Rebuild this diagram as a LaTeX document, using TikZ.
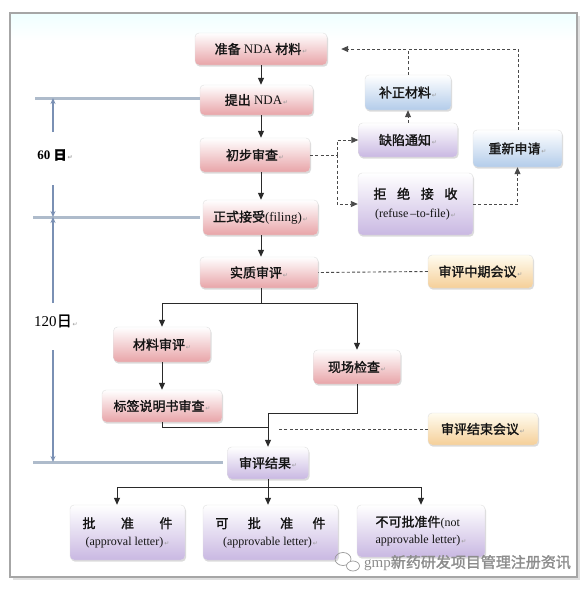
\documentclass[tikz,border=0pt]{standalone}
\usepackage{fontspec}
\setmainfont{Liberation Serif}
\newfontfamily\cjk[FakeBold=1.6]{Noto Sans CJK SC}
\newfontfamily\symf{DejaVu Sans}
\usetikzlibrary{arrows.meta,shadows,calc}
\definecolor{pinkb}{HTML}{E8A4A8}
\definecolor{lavb}{HTML}{C9B8E2}
\definecolor{blueb}{HTML}{B3CCEA}
\definecolor{yelb}{HTML}{F5CF98}
\definecolor{yelt}{HTML}{FFFCF0}
\definecolor{tlc}{HTML}{7A90B4}
\definecolor{hlc}{HTML}{AEBBCB}
\definecolor{lnc}{HTML}{2A2A2A}
\newcommand\rmk{\hspace{1pt}{\symf\fontsize{6}{6}\selectfont\color{black!40}↵}}
\tikzset{
  box/.style={rounded corners=4pt, draw=black!12, line width=0.4pt,
    drop shadow={opacity=0.28, shadow xshift=1pt, shadow yshift=-1.6pt},
    font=\fontsize{13}{15.5}\selectfont, text=black!92, inner sep=2pt, align=center},
  pinkbox/.style={box, top color=white, bottom color=pinkb},
  lavbox/.style={box, top color=white, bottom color=lavb},
  bluebox/.style={box, top color=white, bottom color=blueb},
  yelbox/.style={box, top color=yelt, bottom color=yelb},
  arr/.style={draw=lnc, line width=1pt, -{Triangle[length=7pt,width=6pt]}},
  ln/.style={draw=lnc, line width=1pt},
  dsh/.style={draw=lnc!85, line width=0.9pt, dash pattern=on 3pt off 2.2pt},
  dsharr/.style={dsh, -{Triangle[length=7pt,width=6pt]}},
  tl/.style={draw=tlc, line width=1.5pt},
  tlarr/.style={tl, -{Stealth[length=6pt,width=5pt]}},
  hl/.style={draw=hlc, line width=3pt},
}
\begin{document}
\begin{tikzpicture}[x=1pt,y=-1pt]
\useasboundingbox (0,0) rectangle (588,590);
% frame
\fill[black!12] (13,16) rectangle (580,580);
\fill[white] (10,13) rectangle (577,577);
\fill[top color=cyan!6, bottom color=white] (11,14) rectangle (576,40);
\draw[black!35, line width=2pt] (10,13) rectangle (577,577);

% main column
\node[pinkbox, minimum width=132pt, minimum height=32pt] (prep) at (261,49) {{\cjk 准备} NDA {\cjk 材料}\rmk};
\node[pinkbox, minimum width=113pt, minimum height=30pt] (submit) at (256.5,100) {{\cjk 提出} NDA\rmk};
\node[pinkbox, minimum width=110pt, minimum height=34pt] (prelim) at (255,155) {{\cjk 初步审查}\rmk};
\node[pinkbox, minimum width=115pt, minimum height=35pt] (filing) at (260.5,217.5) {{\cjk 正式接受}(filing)\rmk};
\node[pinkbox, minimum width=118pt, minimum height=31pt] (review) at (259,272.5) {{\cjk 实质审评}\rmk};
\node[pinkbox, minimum width=97pt, minimum height=35pt] (matrev) at (162,344.5) {{\cjk 材料审评}\rmk};
\node[pinkbox, minimum width=87pt, minimum height=34pt] (site) at (357,367) {{\cjk 现场检查}\rmk};
\node[pinkbox, minimum width=120pt, minimum height=32pt] (label) at (162,406) {{\cjk 标签说明书审查}\rmk};
\node[lavbox, minimum width=81pt, minimum height=32pt] (result) at (268,463) {{\cjk 审评结果}\rmk};
\node[lavbox, minimum width=115pt, minimum height=55pt, font=\fontsize{12}{17}\selectfont] (appr) at (127.5,532.5)
  {\makebox[90pt]{{\cjk\fontsize{13}{15}\selectfont 批}\hfill{\cjk\fontsize{13}{15}\selectfont 准}\hfill{\cjk\fontsize{13}{15}\selectfont 件}}\\(approval letter)\rmk};
\node[lavbox, minimum width=135pt, minimum height=55pt, font=\fontsize{12}{17}\selectfont] (apprv) at (270.5,532.5)
  {\makebox[110pt]{{\cjk\fontsize{13}{15}\selectfont 可}\hfill{\cjk\fontsize{13}{15}\selectfont 批}\hfill{\cjk\fontsize{13}{15}\selectfont 准}\hfill{\cjk\fontsize{13}{15}\selectfont 件}}\\(approvable letter)\rmk};
\node[lavbox, minimum width=128pt, minimum height=52pt, font=\fontsize{12}{17}\selectfont, align=left] (notappr) at (421,531)
  {{\cjk\fontsize{13}{15}\selectfont 不可批准件}(not\\approvable letter)\rmk};

% right side
\node[bluebox, minimum width=86pt, minimum height=35pt] (supp) at (408,92.5) {{\cjk 补正材料}\rmk};
\node[lavbox, minimum width=99pt, minimum height=34pt] (defect) at (408,140) {{\cjk 缺陷通知}\rmk};
\node[bluebox, minimum width=89pt, minimum height=37pt] (reapp) at (517.5,148.5) {{\cjk 重新申请}\rmk};
\node[lavbox, minimum width=115pt, minimum height=62pt, font=\fontsize{12}{19}\selectfont] (refuse) at (415.5,204)
  {\makebox[84pt]{{\cjk\fontsize{13}{15}\selectfont 拒}\hfill{\cjk\fontsize{13}{15}\selectfont 绝}\hfill{\cjk\fontsize{13}{15}\selectfont 接}\hfill{\cjk\fontsize{13}{15}\selectfont 收}}\\(refuse\,–to-file)\rmk};
\node[yelbox, minimum width=105pt, minimum height=33pt] (midmeet) at (480.5,271.5) {{\cjk 审评中期会议}\rmk};
\node[yelbox, minimum width=110pt, minimum height=32pt] (endmeet) at (483,429) {{\cjk 审评结束会议}\rmk};

% coordinates
\coordinate (spine) at (261,0);
\coordinate (br1) at (261,303);
\coordinate (m1) at (268,413);
\coordinate (m2) at (268,427);
\coordinate (e1) at (278,429);
\coordinate (br2) at (268,487);
\coordinate (ax) at (117,0);
\coordinate (d1) at (337,0);
\coordinate (t1) at (518,49);

% solid connectors
\draw[arr] (prep.south -| spine) -- (submit.north -| spine);
\draw[arr] (submit.south -| spine) -- (prelim.north -| spine);
\draw[arr] (prelim.south -| spine) -- (filing.north -| spine);
\draw[arr] (filing.south -| spine) -- (review.north -| spine);
\draw[ln] (review.south -| spine) -- (br1);
\draw[arr] (br1) -| (matrev.north);
\draw[arr] (br1) -| (site.north);
\draw[arr] (matrev) -- (label);
\draw[ln] (label.south) |- (m2);
\draw[ln] (site.south) |- (m1);
\draw[arr] (m1) -- (result.north);
\draw[ln] (result.south) -- (br2);
\draw[arr] (br2) -| (ax |- appr.north);
\draw[arr] (br2) -- (br2 |- apprv.north);
\draw[arr] (br2) -| (notappr.north);

% dashed connectors
\draw[dsh] (midmeet.west) -- (review.east);
\draw[dsh] (endmeet.west) -- (e1);
\draw[dsh] (prelim.east) -- (prelim.east -| d1);
\draw[dsharr] (prelim.east -| d1) |- (defect.west);
\draw[dsharr] (prelim.east -| d1) |- (refuse.west);
\draw[dsharr] (defect.north) -- (supp.south);
\draw[dsh] (supp.north) -- (supp.north |- t1);
\draw[dsharr, shorten >=14pt] (reapp.north -| t1) -- (t1) -- (prep.east);
\draw[dsharr] (refuse.east) -| (reapp.south);

% timeline
\coordinate (h1) at (35,98);
\coordinate (h2) at (33,217);
\coordinate (h3) at (33,462);
\draw[hl] (h1) -- (h1 -| submit.west);
\draw[hl] (h2) -- ($(h2 -| filing.west)+(-3,0)$);
\draw[hl] (h3) -- ($(h3 -| result.west)+(-4,0)$);
\coordinate (v1) at (53,132);
\coordinate (v2) at (53,185);
\coordinate (v3) at (53,303);
\coordinate (v4) at (53,350);
\draw[tlarr] (v1) -- (h1 -| v1);
\draw[tlarr] (v2) -- (h2 -| v2);
\draw[tlarr] (v3) -- (h2 -| v3);
\draw[tlarr] (v4) -- (h3 -| v4);
\node[font=\fontsize{13}{15}\selectfont\bfseries, inner sep=0pt] (d60) at (55,155) {60 {\cjk 日}\rmk};
\node[font=\fontsize{15}{17}\selectfont, inner sep=0pt] (d120) at (56,321) {120{\cjk 日}\rmk};

% watermark
\draw[black!40, line width=0.7pt] (343,559) ellipse (8pt and 6.5pt);
\draw[black!40, line width=0.7pt, fill=white] (353,566) ellipse (6.5pt and 5pt);
\node[font=\fontsize{15}{17}\selectfont, text=black!45, inner sep=0pt, anchor=west] (wm) at (364,563) {gmp{\cjk 新药研发项目管理注册资讯}};
\end{tikzpicture}
\end{document}
